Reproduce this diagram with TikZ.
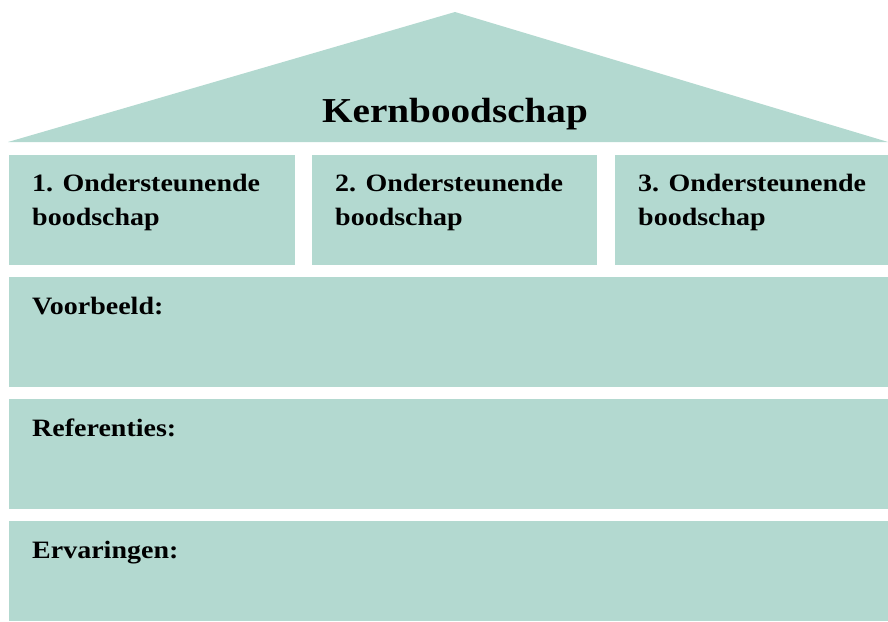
\documentclass[tikz,border=0pt]{standalone}
\usepackage{fontspec}
\setmainfont{Liberation Serif}[FakeStretch=1.12]
\definecolor{roof}{RGB}{179,217,208}
\tikzset{
  panel/.style={fill=roof, draw=none},
  lbl/.style={anchor=base west, inner sep=0pt, align=left, font=\bfseries\fontsize{25}{34}\selectfont},
  ttl/.style={anchor=base, inner sep=0pt, font=\bfseries\fontsize{35}{40}\selectfont}
}
\begin{document}
\begin{tikzpicture}[x=1pt,y=-1pt]
\path[use as bounding box] (0,0) rectangle (888,621);
% roof
\coordinate (rl) at (8,142);
\coordinate (apex) at (455,12);
\coordinate (rr) at (888,142);
\fill[roof] (rl) -- (apex) -- (rr) -- cycle;
% boxes
\fill[roof] (9,155) rectangle (295,265);
\fill[roof] (312,155) rectangle (597,265);
\fill[roof] (615,155) rectangle (888,265);
\fill[roof] (9,277) rectangle (888,387);
\fill[roof] (9,399) rectangle (888,509);
\fill[roof] (9,521) rectangle (888,621);
% texts
\node[ttl] (kern) at (455,122) {Kernboodschap};
\node[lbl] (b1) at (32,225) {1. Ondersteunende\\boodschap};
\node[lbl] (b2) at (335,225) {2. Ondersteunende\\boodschap};
\node[lbl] (b3) at (638,225) {3. Ondersteunende\\boodschap};
\node[lbl] (vb) at (32,314) {Voorbeeld:};
\node[lbl] (ref) at (32,436) {Referenties:};
\node[lbl] (erv) at (32,558) {Ervaringen:};
\end{tikzpicture}
\end{document}
